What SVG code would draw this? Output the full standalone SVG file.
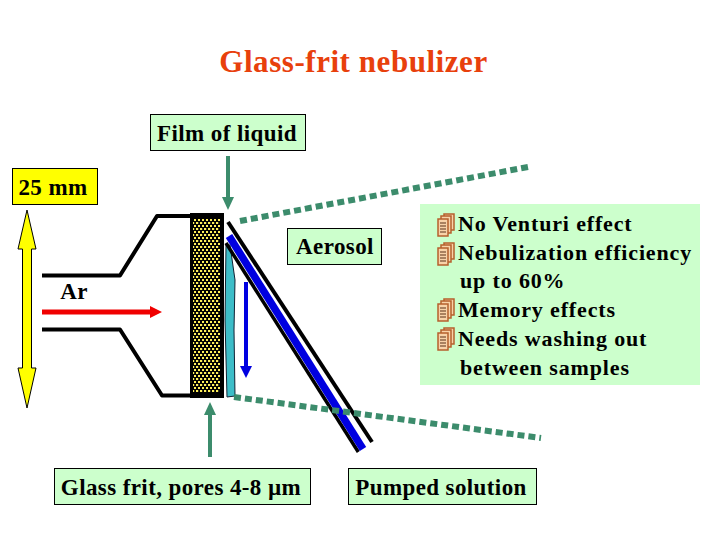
<svg xmlns="http://www.w3.org/2000/svg" width="720" height="540" viewBox="0 0 720 540">
<style>
text{font-family:"Liberation Serif","Times New Roman",serif;font-size:23px;fill:#000;font-weight:bold;letter-spacing:.4px}
.box{stroke:#000;stroke-width:1;fill:#ccffcc}
.wall{fill:none;stroke:#000;stroke-width:4;stroke-linejoin:round}
.dot{fill:none;stroke:#3c8c6c;stroke-width:6;stroke-dasharray:7 4}
.grn{fill:none;stroke:#3c8c6c;stroke-width:4}
.li{font-size:22px;letter-spacing:.85px}
</style>
<defs>
<pattern id="frit" width="4" height="6" patternUnits="userSpaceOnUse"><rect width="4" height="6" fill="#000"/><rect x="0" y="0" width="2.2" height="2" fill="#ffef5a"/><rect x="2" y="3" width="2.2" height="2" fill="#ffef5a"/></pattern>
<g id="ic"><rect x="7" y="0" width="10" height="16" fill="#f8d2a8" stroke="#b5602c" stroke-width="1.5"/><rect x="4" y="2" width="10" height="17" fill="#f8d2a8" stroke="#b5602c" stroke-width="1.5"/><rect x="1" y="5" width="10" height="17" fill="#f8d2a8" stroke="#b5602c" stroke-width="1.5"/><path d="M3 9h6M3 12h6M3 15h6M3 18h6" stroke="#5a3018" stroke-width="1"/></g>
</defs>
<rect width="720" height="540" fill="#fff"/>
<text id="title" x="353.500" y="72" text-anchor="middle" style="font-size:31px;fill:#e8400c;letter-spacing:.55px">Glass-frit nebulizer</text>

<g id="nebulizer">
<path class="wall" d="M42 275.500H120L157 216H192"/>
<path class="wall" d="M42 329.500H120L162 395.500H192"/>
<rect x="190" y="213" width="34" height="185" fill="#000"/>
<rect x="193" y="218" width="27" height="175" fill="url(#frit)"/>
<path d="M226 245L230 245L235 280L234 330L235 396L227 397L225 320Z" fill="#3dbdc8" stroke="#123" stroke-width="1"/>
<path d="M228 222L372 442" stroke="#000" stroke-width="4" fill="none"/>
<path d="M226 243L358.300 452" stroke="#000" stroke-width="3.500" fill="none"/>
<path d="M229 236L363 449" stroke="#0000e0" stroke-width="7.500" fill="none"/>
</g>

<g id="connectors">
<path class="dot" d="M240 221L528 167"/>
<path class="dot" d="M234 397L541 438"/>
<path class="grn" d="M228 156V198"/><path d="M222 197H234L228 210Z" fill="#3c8c6c"/>
<path class="grn" d="M210 457V414"/><path d="M204 415H216L210 402Z" fill="#3c8c6c"/>
<path d="M42 312H150" stroke="#f00000" stroke-width="5"/><path d="M150 306L162 312L150 318Z" fill="#f00000"/>
<path d="M246 282V367" stroke="#0000e0" stroke-width="4"/><path d="M240 366H252L246 378Z" fill="#0000e0"/>
<path d="M27 210L36 249H31.500V368H36L27 408L18 368H22.500V249H18Z" fill="#ffff00" stroke="#000" stroke-width="1"/>
</g>

<g id="film"><rect x="150.500" y="114.500" width="155" height="36" class="box"/><text x="227" y="141" text-anchor="middle">Film of liquid</text></g>
<g id="dim"><rect x="12.500" y="168.500" width="85" height="36" fill="#ffff00" stroke="#000"/><text x="53" y="195" text-anchor="middle">25 mm</text></g>
<g id="aerosol"><rect x="287.500" y="228.500" width="94" height="36" class="box"/><text x="335" y="254" text-anchor="middle">Aerosol</text></g>
<text id="ar" x="74" y="299" text-anchor="middle">Ar</text>
<g id="frit-label"><rect x="54.500" y="468.500" width="256" height="36" class="box"/><text x="181" y="495" text-anchor="middle">Glass frit, pores 4-8 µm</text></g>
<g id="pumped"><rect x="348.500" y="468.500" width="188" height="36" class="box"/><text x="441" y="495" text-anchor="middle">Pumped solution</text></g>

<g id="notes">
<rect x="420" y="204" width="280" height="181" fill="#ccffcc"/>
<use href="#ic" x="437" y="214"/><use href="#ic" x="437" y="243"/><use href="#ic" x="437" y="299"/><use href="#ic" x="437" y="328"/>
<text class="li" x="458" y="231">No Venturi effect</text>
<text class="li" x="458" y="260">Nebulization efficiency</text>
<text class="li" x="460" y="288">up to 60%</text>
<text class="li" x="458" y="317">Memory effects</text>
<text class="li" x="458" y="346">Needs washing out</text>
<text class="li" x="460" y="375">between samples</text>
</g>
</svg>
